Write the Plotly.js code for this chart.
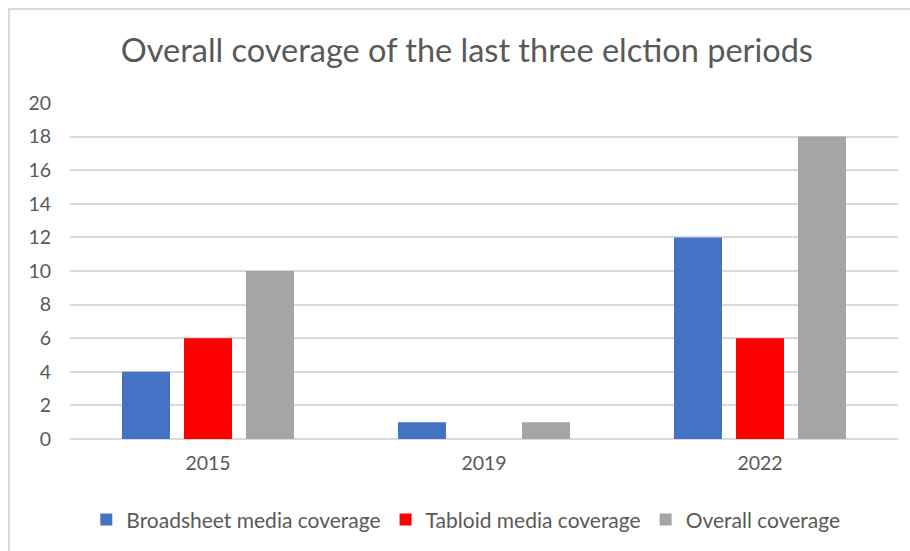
<!DOCTYPE html>
<html>
<head>
<meta charset="utf-8">
<script src="https://cdn.plot.ly/plotly-3.0.1.min.js"></script>
<style>
html,body{margin:0;padding:0;overflow:hidden;background:#fff;}
#chart{position:absolute;left:0;top:0;width:910px;height:551px;}
#frame{position:absolute;left:8px;top:8px;width:920px;height:560px;border-left:2px solid #d9d9d9;border-top:2px solid #d9d9d9;pointer-events:none;}
</style>
</head>
<body>
<div id="chart"></div>
<div id="frame"></div>
<script>
const years = ["2015", "2019", "2022"];
const broadsheet = [4, 1, 12];
const tabloid = [6, 0, 6];
const overall = [10, 1, 18];
const seriesNames = ["Broadsheet media coverage", "Tabloid media coverage", "Overall coverage"];
const seriesColors = ["#4472C4", "#FF0000", "#A5A5A5"];
const yTicks = [0, 2, 4, 6, 8, 10, 12, 14, 16, 18, 20];

const font = "Lato, 'Open Sans', sans-serif";
const txt = "#595959";
const vals = [broadsheet, tabloid, overall];
const data = vals.map((v, i) => ({
  type: "bar", x: years, y: v, name: seriesNames[i],
  marker: {color: seriesColors[i], line: {width: 0}},
  hoverinfo: "none"
}));

const layout = {
  width: 910, height: 551,
  margin: {l: 70, r: 12, t: 103, b: 111},
  paper_bgcolor: "#fff", plot_bgcolor: "#fff",
  barmode: "group", bargap: 0.326, bargroupgap: 0.226,
  title: {text: "Overall coverage of the last three elction periods",
    font: {family: font, size: 32.5, color: txt},
    x: 0.513, xanchor: "center", y: 0.909, yanchor: "middle", xref: "container", yref: "container"},
  xaxis: {type: "category", showgrid: false, zeroline: false, showline: false,
    tickfont: {family: font, size: 19.5, color: txt}, ticks: "", ticklabelstandoff: 10},
  yaxis: {range: [0, 20], tickvals: yTicks, showgrid: true, gridcolor: "#d9d9d9", gridwidth: 2,
    zeroline: true, zerolinecolor: "#d9d9d9", zerolinewidth: 2, showline: false,
    tickfont: {family: font, size: 19.5, color: txt}, ticks: "", ticklabelstandoff: 18},
  legend: {orientation: "h", x: 0.478, xanchor: "center", y: -0.237, yanchor: "middle",
    font: {family: font, size: 21, color: txt}, itemwidth: 30, traceorder: "normal"},
  showlegend: true
};
Plotly.newPlot("chart", data, layout, {staticPlot: true});
</script>
</body>
</html>
